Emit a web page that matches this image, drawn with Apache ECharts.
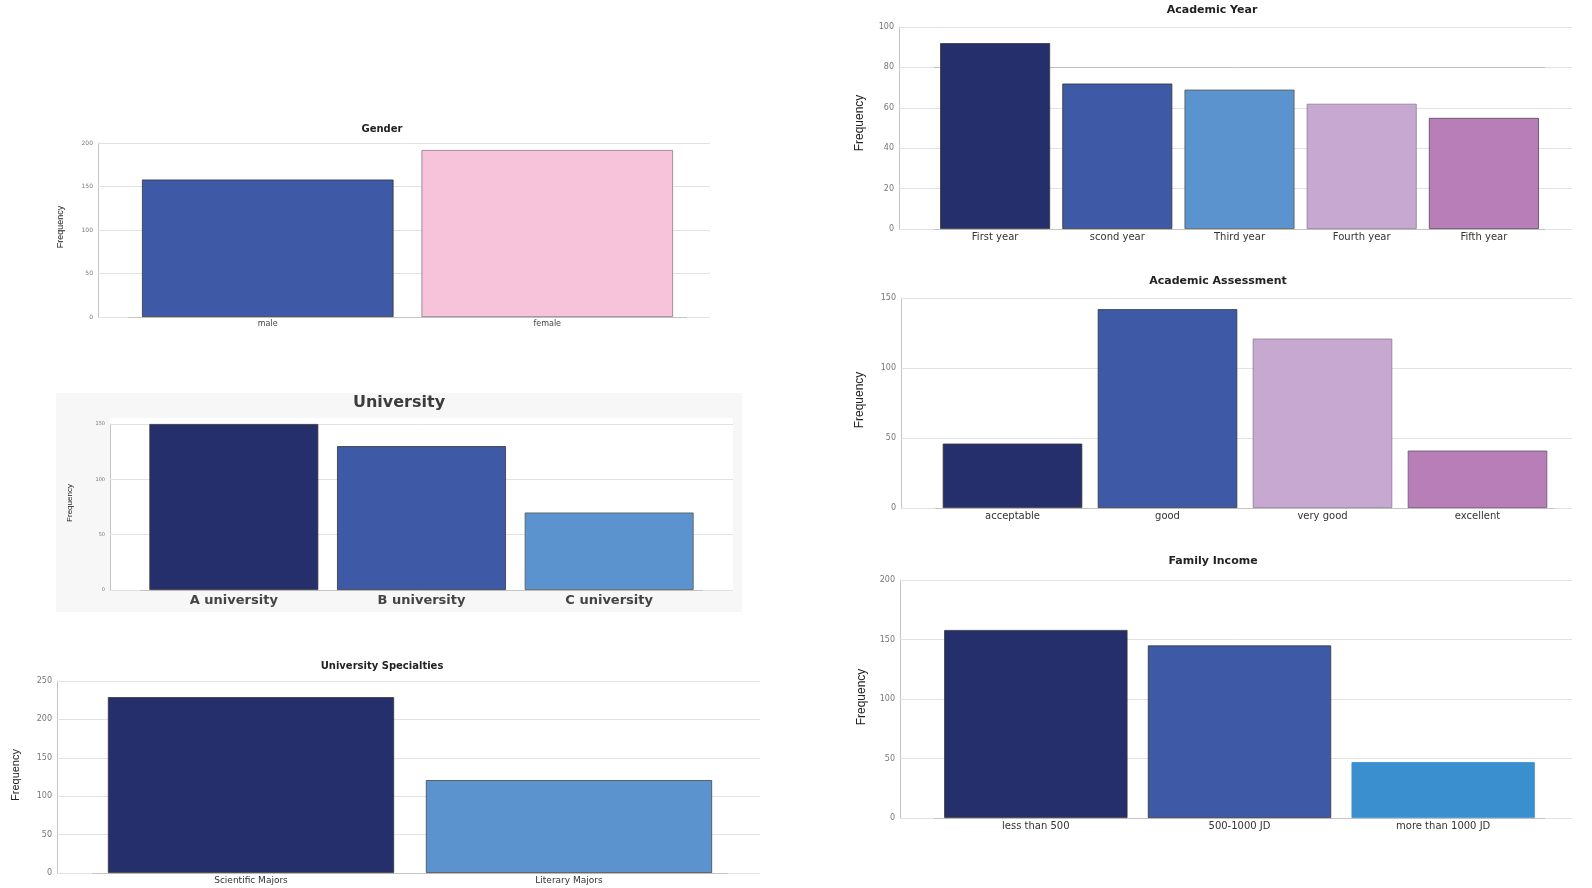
<!DOCTYPE html>
<html>
<head>
<meta charset="utf-8">
<script src="https://cdn.jsdelivr.net/npm/echarts@6/dist/echarts.min.js"></script>
<style>
html,body{margin:0;padding:0;background:#fff;}
#chart{width:1592px;height:888px;}
</style>
</head>
<body>
<div id="chart"></div>
<script>
// ---- data ----
const genderCats = ['male', 'female'];
const genderVals = [158, 192];
const univCats = ['A university', 'B university', 'C university'];
const univVals = [150, 130, 70];
const specCats = ['Scientific Majors', 'Literary Majors'];
const specVals = [229, 121];
const yearCats = ['First year', 'scond year', 'Third year', 'Fourth year', 'Fifth year'];
const yearVals = [92, 72, 69, 62, 55];
const assessCats = ['acceptable', 'good', 'very good', 'excellent'];
const assessVals = [46, 142, 121, 41];
const incomeCats = ['less than 500', '500-1000 JD', 'more than 1000 JD'];
const incomeVals = [158, 145, 47];

const titles = ['Gender', 'University', 'University Specialties', 'Academic Year', 'Academic Assessment', 'Family Income'];
const yName = 'Frequency';

// ---- styles ----
const NAVY = '#252f6b', BLUE = '#3e5aa6', LBLUE = '#5b93cf', LAV = '#c6a8d1', PURP = '#b87eb8', PINK = '#f6c3db', SKY = '#3a8fce';

const panels = [
  { title: titles[0], cats: genderCats, vals: genderVals, colors: [BLUE, PINK], borders: ['#333', '#8a7a85'],
    axisX: 98, catStart: 128, catEnd: 687, gridEnd: 710, top: 143, y0: 317, max: 200, interval: 50,
    tickFont: 6, catFont: 8, catFamily: 'DejaVu Sans', catWeight: 'normal', catColor: '#444',
    titleX: 382, titleY: 129, titleFont: 'bold 10px "DejaVu Sans"', titleColor: '#222',
    nameX: 61, nameY: 227, nameFont: '9px "Liberation Sans Narrow","Liberation Sans"' },
  { title: titles[1], cats: univCats, vals: univVals, colors: [NAVY, BLUE, LBLUE], borders: ['#333', '#333', '#555'],
    axisX: 110, catStart: 140, catEnd: 703, gridEnd: 733, top: 424, y0: 590, max: 150, interval: 50,
    tickFont: 5, catFont: 13, catFamily: 'DejaVu Sans', catWeight: 'bold', catColor: '#444',
    titleX: 399, titleY: 403, titleFont: 'bold 16px "DejaVu Sans"', titleColor: '#3c3c3c',
    nameX: 70, nameY: 503, nameFont: '8px "Liberation Sans Narrow","Liberation Sans"' },
  { title: titles[2], cats: specCats, vals: specVals, colors: [NAVY, LBLUE], borders: ['#333', '#444'],
    axisX: 57, catStart: 92, catEnd: 728, gridEnd: 760, top: 681, y0: 873, max: 250, interval: 50,
    tickFont: 8, catFont: 9, catFamily: 'DejaVu Sans', catWeight: 'normal', catColor: '#333',
    titleX: 382, titleY: 666, titleFont: 'bold 10px "DejaVu Sans"', titleColor: '#222',
    nameX: 16, nameY: 775, nameFont: '11px "Liberation Sans Narrow","Liberation Sans"' },
  { title: titles[3], cats: yearCats, vals: yearVals, colors: [NAVY, BLUE, LBLUE, LAV, PURP], borders: ['#333', '#333', '#555', '#8a7a90', '#5a4060'],
    axisX: 899, catStart: 934, catEnd: 1545, gridEnd: 1572, top: 27, y0: 229, max: 100, interval: 20,
    tickFont: 8, catFont: 10, catFamily: 'DejaVu Sans', catWeight: 'normal', catColor: '#333',
    titleX: 1212, titleY: 10, titleFont: 'bold 11px "DejaVu Sans"', titleColor: '#222',
    nameX: 860, nameY: 123, nameFont: '12px "Liberation Sans Narrow","Liberation Sans"' },
  { title: titles[4], cats: assessCats, vals: assessVals, colors: [NAVY, BLUE, LAV, PURP], borders: ['#333', '#333', '#8a7a90', '#6a5070'],
    axisX: 901, catStart: 935, catEnd: 1555, gridEnd: 1572, top: 298, y0: 508, max: 150, interval: 50,
    tickFont: 8, catFont: 10, catFamily: 'DejaVu Sans', catWeight: 'normal', catColor: '#333',
    titleX: 1218, titleY: 281, titleFont: 'bold 11px "DejaVu Sans"', titleColor: '#222',
    nameX: 860, nameY: 400, nameFont: '12px "Liberation Sans Narrow","Liberation Sans"' },
  { title: titles[5], cats: incomeCats, vals: incomeVals, colors: [NAVY, BLUE, SKY], borders: ['#333', '#333', '#3a8fce'],
    axisX: 900, catStart: 934, catEnd: 1545, gridEnd: 1572, top: 580, y0: 818, max: 200, interval: 50,
    tickFont: 8, catFont: 10, catFamily: 'DejaVu Sans', catWeight: 'normal', catColor: '#333',
    titleX: 1213, titleY: 561, titleFont: 'bold 11px "DejaVu Sans"', titleColor: '#222',
    nameX: 862, nameY: 697, nameFont: '12px "Liberation Sans Narrow","Liberation Sans"' }
];

const GRIDC = '#e2e2e2', AXISC = '#c4c4c4';
const grid = [], xAxis = [], yAxis = [], series = [];
const graphic = [
  { type: 'rect', shape: { x: 56, y: 393, width: 686, height: 219 }, style: { fill: '#f7f7f7' }, z: -10 },
  { type: 'rect', shape: { x: 110, y: 418, width: 623, height: 172 }, style: { fill: '#ffffff' }, z: -9 }
];

panels.forEach((p, i) => {
  grid.push({ left: p.catStart, width: p.catEnd - p.catStart, top: p.top, height: p.y0 - p.top });
  xAxis.push({
    type: 'category', gridIndex: i, data: p.cats,
    axisLine: { lineStyle: { color: AXISC, width: 1 } },
    axisTick: { show: false },
    axisLabel: { margin: i === 1 ? 4 : 3, fontSize: p.catFont, fontFamily: p.catFamily, fontWeight: p.catWeight, color: p.catColor, interval: 0 }
  });
  const lOff = p.catStart - p.axisX, rOff = p.gridEnd - p.catEnd;
  const splitColors = [];
  for (let v = 0; v <= p.max; v += p.interval) splitColors.push(i === 3 && v === 80 ? '#c2c2c2' : GRIDC);
  yAxis.push({
    type: 'value', gridIndex: i, position: 'left', min: 0, max: p.max, interval: p.interval, offset: lOff,
    axisLine: { show: true, lineStyle: { color: AXISC, width: 1 } },
    axisTick: { show: true, inside: true, length: lOff, lineStyle: { color: GRIDC } },
    axisLabel: { fontSize: p.tickFont, color: '#777', margin: 5, fontFamily: 'DejaVu Sans' },
    splitLine: { show: true, lineStyle: { color: splitColors, width: 1 } }
  });
  yAxis.push({
    type: 'value', gridIndex: i, position: 'right', min: 0, max: p.max, interval: p.interval, offset: rOff,
    axisLine: { show: false },
    axisTick: { show: true, inside: true, length: rOff, lineStyle: { color: GRIDC } },
    axisLabel: { show: false },
    splitLine: { show: false }
  });
  series.push({
    type: 'bar', xAxisIndex: i, yAxisIndex: 2 * i, barCategoryGap: '10%',
    data: p.vals.map((v, j) => ({ value: v, itemStyle: { color: p.colors[j], borderColor: p.borders[j], borderWidth: 0.8 } })),
    silent: true
  });
  graphic.push({ type: 'text', x: p.titleX, y: p.titleY,
    style: { text: p.title, font: p.titleFont, fill: p.titleColor, textAlign: 'center', textVerticalAlign: 'middle' } });
  graphic.push({ type: 'text', x: p.nameX, y: p.nameY, rotation: Math.PI / 2,
    style: { text: yName, font: p.nameFont, fill: '#222', textAlign: 'center', textVerticalAlign: 'middle' } });
});

const chart = echarts.init(document.getElementById('chart'), null, { renderer: 'canvas' });
chart.setOption({ animation: false, backgroundColor: '#ffffff', grid, xAxis, yAxis, series, graphic });
</script>
</body>
</html>
